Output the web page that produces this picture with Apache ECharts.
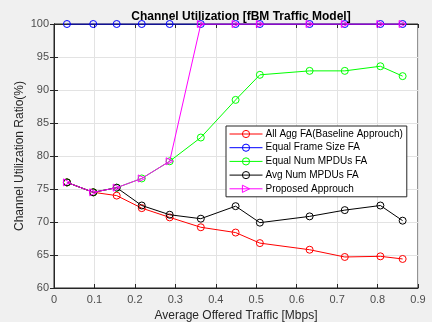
<!DOCTYPE html>
<html>
<head>
<meta charset="utf-8">
<script src="https://cdn.jsdelivr.net/npm/echarts@6/dist/echarts.min.js"></script>
<style>
  html, body { margin: 0; padding: 0; background: #f0f0f0; }
  #chart { width: 432px; height: 322px; }
</style>
</head>
<body>
<div id="chart"></div>
<script>
// offered traffic (Mbps)
const traffic = [0.032, 0.097, 0.155, 0.217, 0.286, 0.363, 0.449, 0.509, 0.632, 0.719, 0.807, 0.862];

const allAgg = [76, 74.5, 74.0, 72.1, 70.7, 69.2, 68.4, 66.8, 65.8, 64.7, 64.8, 64.4];
const equalFrame = [100, 100, 100, 100, 100, 100, 100, 100, 100, 100, 100, 100];
const equalNum = [76, 74.5, 75.2, 76.6, 79.2, 82.8, 88.5, 92.3, 92.9, 92.9, 93.6, 92.1];
const avgNum = [76, 74.5, 75.2, 72.5, 71.1, 70.5, 72.4, 69.9, 70.85, 71.8, 72.5, 70.2];
const proposed = [76, 74.5, 75.2, 76.6, 79.2, 100, 100, 100, 100, 100, 100, 100];

const names = ['All Agg FA(Baseline Approuch)', 'Equal Frame Size FA', 'Equal Num MPDUs FA', 'Avg Num MPDUs FA', 'Proposed Approuch'];
const colors = ['#ff0000', '#0000ff', '#00ff00', '#000000', '#ff00ff'];
const values = [allAgg, equalFrame, equalNum, avgNum, proposed];

const chart = echarts.init(document.getElementById('chart'));

function pairs(v) {
  return traffic.map((x, i) => [x, v[i]]);
}

const series = values.map((v, i) => {
  const isTri = i === 4;
  return {
    name: names[i],
    type: 'line',
    data: pairs(v),
    symbol: isTri ? 'triangle' : 'circle',
    symbolRotate: isTri ? -90 : 0,
    symbolSize: 7,
    showAllSymbol: true,
    color: colors[i],
    lineStyle: { color: colors[i], width: 1 },
    itemStyle: { color: 'rgba(255,255,255,0)', borderColor: colors[i], borderWidth: 1 },
    emphasis: { disabled: true },
    z: 2 + i
  };
});

const axisCol = '#262626';
const labelFont = { fontFamily: 'Liberation Sans', fontSize: 11, color: '#4d4d4d' };

const option = {
  backgroundColor: '#f0f0f0',
  animation: false,
  title: {
    text: 'Channel Utilization [fBM Traffic Model]',
    left: 236,
    textAlign: 'center',
    top: 6,
    textStyle: { fontFamily: 'Liberation Sans', fontSize: 12, fontWeight: 'bold', color: '#000' }
  },
  grid: {
    left: 54, right: 14, top: 24, bottom: 34,
    outerBoundsMode: 'none',
    show: true, backgroundColor: '#fff', borderColor: axisCol, borderWidth: 1
  },
  legend: {
    orient: 'vertical',
    left: 226,
    top: 126,
    backgroundColor: '#fff',
    borderColor: '#262626',
    borderWidth: 1,
    borderRadius: 0,
    padding: [3, 4, 3, 3],
    itemGap: 3.7,
    itemWidth: 33,
    itemHeight: 9,
    lineStyle: { width: 1 },
    itemStyle: { borderWidth: 1 },
    textStyle: { fontFamily: 'Liberation Sans', fontSize: 10, color: '#000', padding: [0, 0, 0, -2] },
    data: names
  },
  xAxis: [{
    type: 'value', min: 0, max: 0.9, interval: 0.1,
    name: 'Average Offered Traffic [Mbps]',
    nameLocation: 'middle', nameGap: 22,
    nameTextStyle: { fontFamily: 'Liberation Sans', fontSize: 12, color: '#262626' },
    axisLine: { show: true, lineStyle: { color: axisCol } },
    axisTick: { show: true, inside: true, length: 4, lineStyle: { color: axisCol } },
    axisLabel: Object.assign({ margin: 6 }, labelFont),
    splitLine: { show: true, lineStyle: { color: '#e3e3e3', width: 1 } }
  }, {
    type: 'value', min: 0, max: 0.9, interval: 0.1, position: 'top',
    axisLine: { show: true, lineStyle: { color: axisCol } },
    axisTick: { show: true, inside: true, length: 4, lineStyle: { color: axisCol } },
    axisLabel: { show: false },
    splitLine: { show: false }
  }],
  yAxis: [{
    type: 'value', min: 60, max: 100, interval: 5,
    name: 'Channel Utilization Ratio(%)',
    nameLocation: 'middle', nameGap: 28,
    nameMoveOverlap: false,
    nameTextStyle: { fontFamily: 'Liberation Sans', fontSize: 12, color: '#262626' },
    axisLine: { show: true, lineStyle: { color: axisCol } },
    axisTick: { show: true, inside: true, length: 4, lineStyle: { color: axisCol } },
    axisLabel: Object.assign({ margin: 5 }, labelFont),
    splitLine: { show: true, lineStyle: { color: '#e3e3e3', width: 1 } }
  }, {
    type: 'value', min: 60, max: 100, interval: 5, position: 'right',
    axisLine: { show: true, lineStyle: { color: axisCol } },
    axisTick: { show: true, inside: true, length: 4, lineStyle: { color: axisCol } },
    axisLabel: { show: false },
    splitLine: { show: false }
  }],
  series: series
};

chart.setOption(option);
</script>
</body>
</html>
